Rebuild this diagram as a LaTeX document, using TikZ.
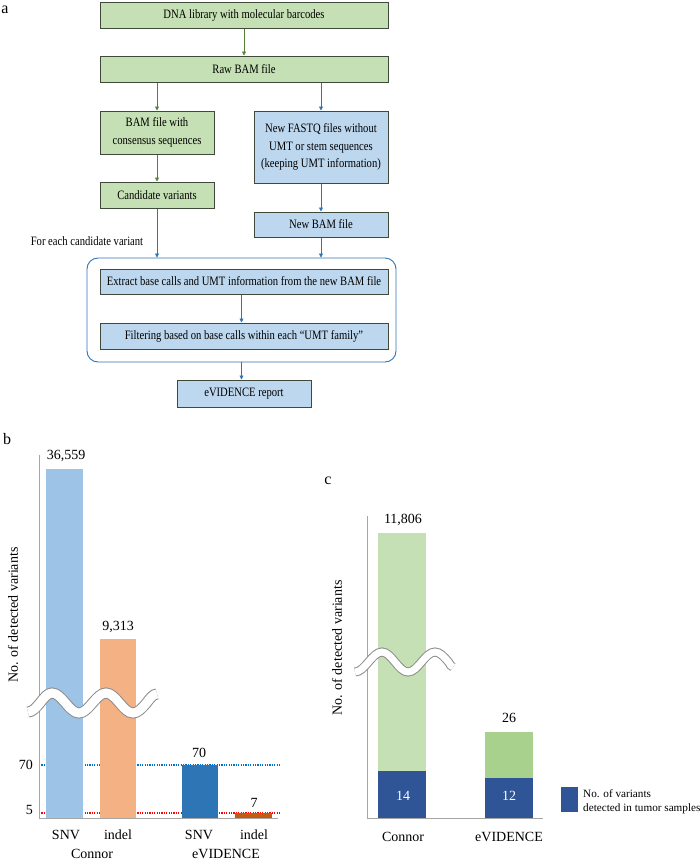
\documentclass[tikz,border=0pt]{standalone}
\usepackage{fontspec}
\setmainfont{Liberation Serif}
\newfontfamily\flowfont[FakeStretch=0.83]{Liberation Serif}
\usetikzlibrary{arrows.meta}
\definecolor{fgreen}{HTML}{C5E0B4}
\definecolor{fblue}{HTML}{BDD7EE}
\definecolor{agreen}{HTML}{548235}
\definecolor{ablue}{HTML}{2E75B6}
\definecolor{dotblue}{HTML}{0070C0}
\definecolor{dotred}{HTML}{FF0000}
\definecolor{barlb}{HTML}{9DC3E6}
\definecolor{barlo}{HTML}{F4B183}
\definecolor{bardb}{HTML}{2E75B6}
\definecolor{bardo}{HTML}{C55A11}
\definecolor{cgreen}{HTML}{C5E0B4}
\definecolor{cgreenb}{HTML}{A9D18E}
\definecolor{cblue}{HTML}{2F5597}
\definecolor{axgray}{HTML}{A6A6A6}
\definecolor{boxline}{HTML}{3F4A3A}
\tikzset{
  box/.style={draw=boxline, line width=1pt, inner sep=0pt, align=center,
    font=\flowfont\fontsize{12.8}{17.5}\selectfont, text=black},
  gbox/.style={box, fill=fgreen},
  bbox/.style={box, fill=fblue},
  garrow/.style={draw=agreen, line width=0.8pt, -{Triangle[length=4pt,width=4pt]}},
  barrow/.style={draw=ablue, line width=0.8pt, -{Triangle[length=4pt,width=4pt]}},
  lbl/.style={inner sep=0pt, font=\fontsize{14}{16}\selectfont},
  panel/.style={inner sep=0pt, font=\fontsize{16}{18}\selectfont},
  axisline/.style={draw=axgray, line width=0.9pt},
  dotline/.style={line width=1.3pt, dash pattern=on 1.2pt off 1.2pt},
  breakband/.style={draw=black!45, line width=11pt},
  breakwhite/.style={draw=white, line width=9pt}
}
\begin{document}
\begin{tikzpicture}[x=1pt,y=-1pt]
\fill[white] (0,0) rectangle (700,863);
\useasboundingbox (0,0) rectangle (700,863);

% ---------- panel a ----------
\node[panel] (pa) at (5,10) {a};
\node[gbox, minimum width=288pt, minimum height=26pt] (n1) at (244,15) {DNA library with molecular barcodes};
\node[gbox, minimum width=288pt, minimum height=26pt] (n2) at (244,69) {Raw BAM file};
\node[gbox, minimum width=114pt, minimum height=43pt] (n3) at (157,132.5) {BAM file with\\consensus sequences};
\node[bbox, minimum width=134pt, minimum height=72pt] (n4) at (321,147) {New FASTQ files without\\UMT or stem sequences\\(keeping UMT information)};
\node[gbox, minimum width=114pt, minimum height=26pt] (n5) at (157,195) {Candidate variants};
\node[bbox, minimum width=134pt, minimum height=25pt] (n6) at (321,224.5) {New BAM file};
\node[draw=ablue, line width=0.9pt, rounded corners=11pt, inner sep=0pt,
      minimum width=309pt, minimum height=104pt] (cont) at (241.5,310) {};
\node[bbox, minimum width=288pt, minimum height=25pt] (n7) at (244,281.5) {Extract base calls and UMT information from the new BAM file};
\node[bbox, minimum width=288pt, minimum height=26pt] (n8) at (244,336) {Filtering based on base calls within each “UMT family”};
\node[bbox, minimum width=134pt, minimum height=27pt] (n9) at (244,393.5) {eVIDENCE report};
\node[inner sep=0pt, font=\flowfont\fontsize{12.8}{14}\selectfont] (fe) at (87,241) {For each candidate variant};

\draw[garrow] (n1.south) -- (n2.north);
\draw[garrow] (n2.south -| n3.north) -- (n3.north);
\draw[barrow] (n2.south -| n4.north) -- (n4.north);
\draw[garrow] (n3.south) -- (n5.north);
\draw[barrow] (n4.south) -- (n6.north);
\draw[barrow] (n5.south) -- (n5.south |- cont.north);
\draw[barrow] (n6.south) -- (n6.south |- cont.north);
\draw[barrow] (n7.south -| cont.north) -- (n8.north -| cont.north);
\draw[barrow] (cont.south) -- (cont.south |- n9.north);

% ---------- panel b ----------
\node[panel] (pb) at (7,439) {b};
\draw[dotline, dotblue] (39,765) -- (280,765);
\draw[dotline, dotred] (39,813) -- (280,813);
\fill[barlb] (46,469) rectangle (83,818);
\fill[barlo] (100,639) rectangle (136,818);
\fill[bardb] (182,765) rectangle (218,818);
\fill[bardo] (235,813) rectangle (272,818);
\draw[axisline] (39,455) -- (39,818) -- (278,818);
\foreach \st in {breakband,breakwhite}{
  \draw[\st] (28,712) cos (40,703) sin (52,693) cos (65.5,703) sin (79,713)
    cos (92.5,703) sin (106,693) cos (119.5,703) sin (133,713) cos (146.5,703) sin (157,694);
}
\node[lbl] (vb1) at (66,456) {36,559};
\node[lbl] (vb2) at (118,627) {9,313};
\node[lbl] (vb3) at (199,753) {70};
\node[lbl] (vb4) at (254,803) {7};
\node[lbl, anchor=east] (t70) at (33,765) {70};
\node[lbl, anchor=east] (t5) at (33,810) {5};
\node[lbl] (xb1) at (66,835) {SNV};
\node[lbl] (xb2) at (118,835) {indel};
\node[lbl] (xb3) at (199,835) {SNV};
\node[lbl] (xb4) at (254,835) {indel};
\node[lbl] (gb1) at (92,854) {Connor};
\node[lbl] (gb2) at (226,854) {eVIDENCE};
\node[lbl, rotate=90] (ylb) at (13,615) {No. of detected variants};

% ---------- panel c ----------
\node[panel] (pc) at (328,481) {c};
\fill[cgreen] (378,533) rectangle (426,771);
\fill[cblue] (378,771) rectangle (426,818);
\fill[cgreenb] (485,732) rectangle (533,778);
\fill[cblue] (485,778) rectangle (533,818);
\draw[axisline] (367,516) -- (367,818) -- (543,818);
\foreach \st/\w in {breakband/9pt,breakwhite/7pt}{
  \draw[\st, line width=\w] (355,672) cos (368.5,662) sin (382,652) cos (395,662) sin (408,672)
    cos (421.5,662) sin (435,652) cos (448.5,662) sin (453,667);
}
\node[lbl] (vc1) at (403,520) {11,806};
\node[lbl] (vc2) at (509,718) {26};
\node[lbl, text=white] (vc3) at (403,796) {14};
\node[lbl, text=white] (vc4) at (509,796) {12};
\node[lbl] (xc1) at (403,837) {Connor};
\node[lbl] (xc2) at (509,837) {eVIDENCE};
\node[lbl, rotate=90] (ylc) at (337,648) {No. of detected variants};
\fill[cblue] (561,787) rectangle (578,812);
\node[inner sep=0pt, anchor=west, align=left, font=\fontsize{11.2}{13.5}\selectfont] (leg) at (583,801.5) {No. of variants\\detected in tumor samples};
\end{tikzpicture}
\end{document}
